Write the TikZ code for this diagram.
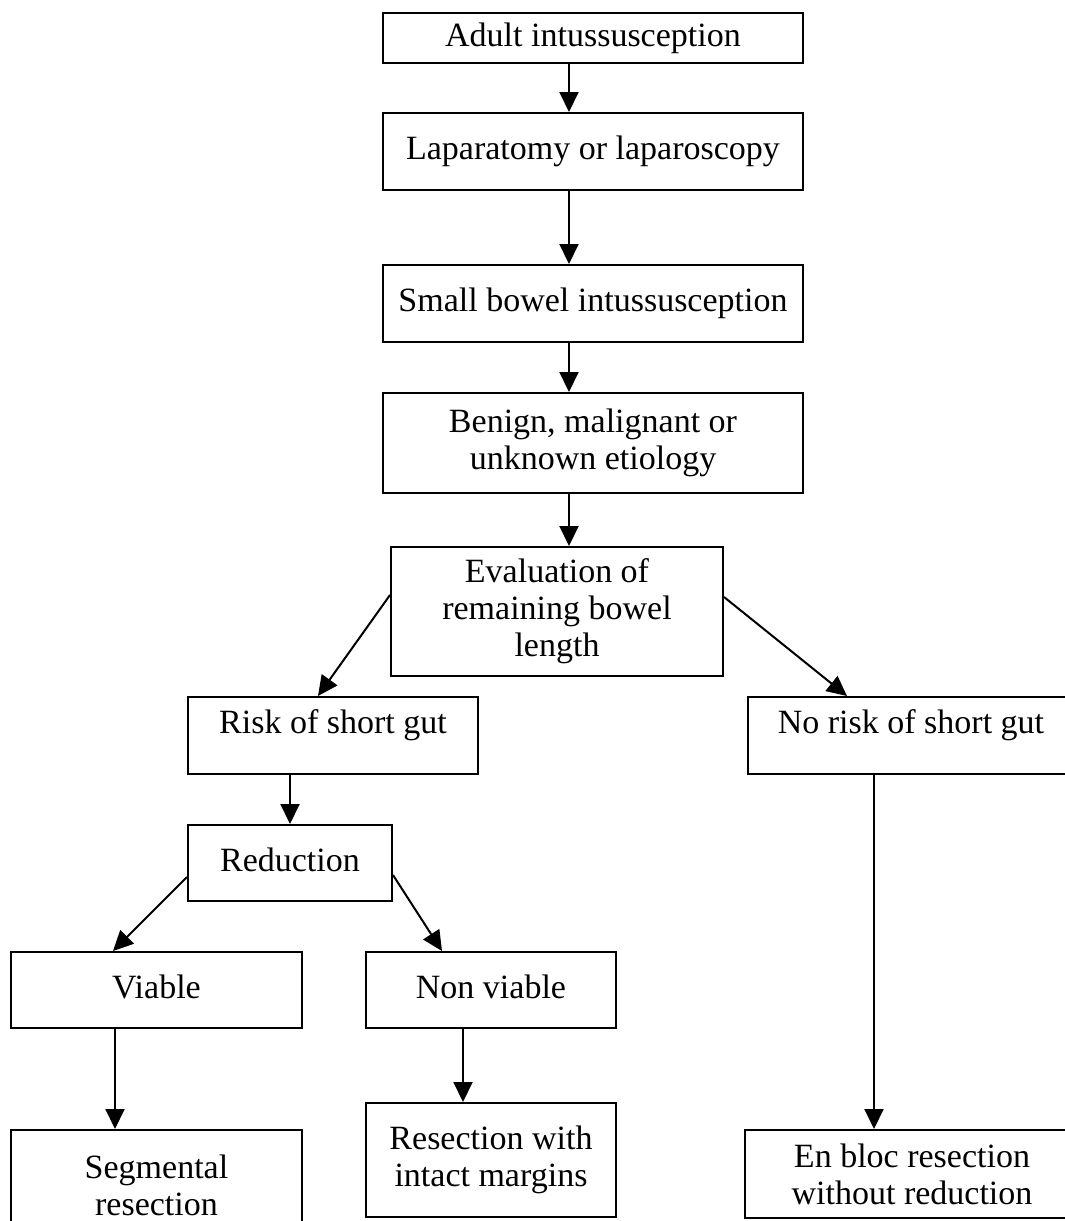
\documentclass[tikz,border=0pt]{standalone}
\usepackage{fontspec}
\setmainfont{Liberation Serif}
\usetikzlibrary{arrows.meta}
\begin{document}
\begin{tikzpicture}[x=0.4pt,y=-0.4pt,
  box/.style={draw, line width=0.8pt, align=center, inner sep=0pt,
    font=\fontsize{13.6}{14.8}\selectfont},
  arr/.style={-{Triangle[length=8pt,width=7.6pt]}, line width=0.8pt}]
\useasboundingbox (0,0) rectangle (1065,1221);
% boxes
\node[box, minimum width=168pt, minimum height=20pt] (adult) at (593,38) {Adult intussusception};
\node[box, minimum width=168pt, minimum height=30.8pt] (lap) at (593,151.5) {Laparatomy or laparoscopy};
\node[box, minimum width=168pt, minimum height=30.8pt] (small) at (593,303.5) {Small bowel intussusception};
\node[box, minimum width=168pt, minimum height=40pt] (benign) at (593,443) {Benign, malignant or\\unknown etiology};
\node[box, minimum width=132.8pt, minimum height=51.6pt] (eval) at (557,611.5) {Evaluation of\\remaining bowel\\length};
\node[box, minimum width=116pt, minimum height=30.8pt, text depth=11pt] (risk) at (333,735.5) {Risk of short gut};
\node[box, minimum width=130.4pt, minimum height=30.8pt, text depth=11pt] (norisk) at (911,735.5) {No risk of short gut};
\node[box, minimum width=81.6pt, minimum height=30.4pt, text depth=3pt] (red) at (290,863) {Reduction};
\node[box, minimum width=116.4pt, minimum height=30.4pt, text depth=3pt] (viable) at (156.5,990) {Viable};
\node[box, minimum width=100pt, minimum height=30.4pt, text depth=3pt] (nonviable) at (491,990) {Non viable};
\node[box, minimum width=116.4pt, minimum height=44pt] (seg) at (156.5,1185) {Segmental\\resection};
\node[box, minimum width=100pt, minimum height=45.6pt] (resec) at (491,1160) {Resection with\\intact margins};
\node[box, minimum width=133.6pt, minimum height=35.2pt] (enbloc) at (912,1174) {En bloc resection\\without reduction};
% helper coordinates
\coordinate (cx) at (569,0);
\coordinate (e1) at (0,595);
\coordinate (e2) at (318,0);
\coordinate (e3) at (0,597);
\coordinate (e4) at (847,0);
\coordinate (rx) at (290,0);
\coordinate (r1) at (0,877);
\coordinate (r2) at (113,0);
\coordinate (r3) at (0,875);
\coordinate (r4) at (442,0);
\coordinate (vx) at (115,0);
\coordinate (nx) at (463,0);
\coordinate (bx) at (874,0);
% connectors
\draw[arr] (adult.south -| cx) -- (lap.north -| cx);
\draw[arr] (lap.south -| cx) -- (small.north -| cx);
\draw[arr] (small.south -| cx) -- (benign.north -| cx);
\draw[arr] (benign.south -| cx) -- (eval.north -| cx);
\draw[arr] (eval.west |- e1) -- (risk.north -| e2);
\draw[arr] (eval.east |- e3) -- (norisk.north -| e4);
\draw[arr] (risk.south -| rx) -- (red.north -| rx);
\draw[arr] (red.west |- r1) -- (viable.north -| r2);
\draw[arr] (red.east |- r3) -- (nonviable.north -| r4);
\draw[arr] (viable.south -| vx) -- (seg.north -| vx);
\draw[arr] (nonviable.south -| nx) -- (resec.north -| nx);
\draw[arr] (norisk.south -| bx) -- (enbloc.north -| bx);
\end{tikzpicture}
\end{document}
